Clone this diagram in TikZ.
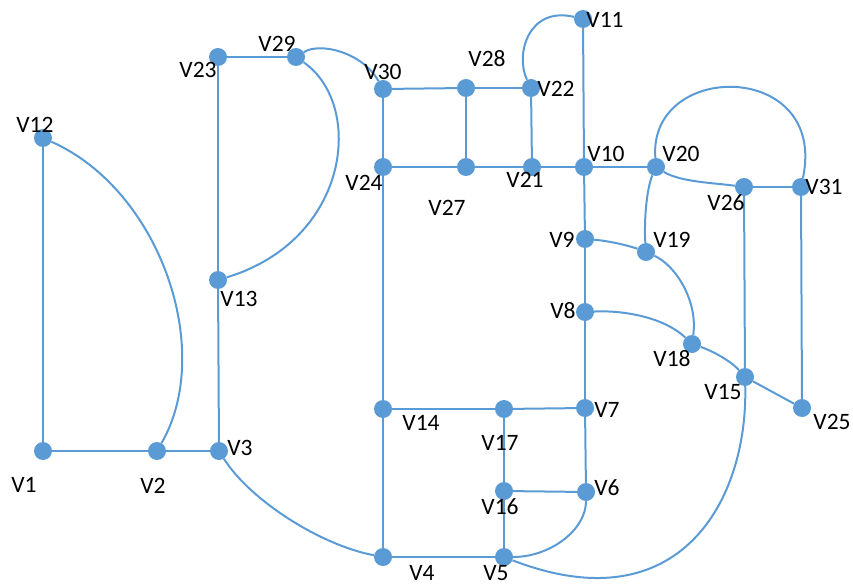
\documentclass[tikz,border=0pt]{standalone}
\usepackage{fontspec}
\setmainfont{Carlito}
\definecolor{vblue}{RGB}{91,155,213}
\begin{document}
\begin{tikzpicture}[x=1pt,y=-1pt,
  vert/.style={circle,fill=vblue,draw=none,minimum size=18pt,inner sep=0pt},
  lbl/.style={inner sep=0pt,text=black,font=\fontsize{23.5}{28}\selectfont},
  edge/.style={draw=vblue,line width=2pt}]
\useasboundingbox (0,0) rectangle (853,585);

% vertices
\node[vert] (v1)  at (43,451)  {};
\node[vert] (v2)  at (157,451) {};
\node[vert] (v3)  at (219,451) {};
\node[vert] (v12) at (43,138)  {};
\node[vert] (v13) at (218,280) {};
\node[vert] (v23) at (218,57)  {};
\node[vert] (v29) at (296,57)  {};
\node[vert] (v30) at (383,89)  {};
\node[vert] (v28) at (466,88)  {};
\node[vert] (v22) at (531,88)  {};
\node[vert] (v11) at (583,19)  {};
\node[vert] (v24) at (383,167) {};
\node[vert] (v27) at (466,167) {};
\node[vert] (v21) at (532,167) {};
\node[vert] (v10) at (584,167) {};
\node[vert] (v20) at (656,167) {};
\node[vert] (v26) at (744,187) {};
\node[vert] (v31) at (801,187) {};
\node[vert] (v9)  at (585,239) {};
\node[vert] (v19) at (646,252) {};
\node[vert] (v8)  at (585,312) {};
\node[vert] (v18) at (692,344) {};
\node[vert] (v15) at (745,377) {};
\node[vert] (v25) at (802,408) {};
\node[vert] (v7)  at (585,408) {};
\node[vert] (v14) at (383,409) {};
\node[vert] (v17) at (504,409) {};
\node[vert] (v16) at (504,491) {};
\node[vert] (v6)  at (586,492) {};
\node[vert] (v4)  at (383,557) {};
\node[vert] (v5)  at (504,557) {};

% straight edges
\draw[edge] (v1) -- (v2);
\draw[edge] (v2) -- (v3);
\draw[edge] (v1) -- (v12);
\draw[edge] (v23) -- (v29);
\draw[edge] (v23) -- (v13);
\draw[edge] (v13) -- (v3);
\draw[edge] (v30) -- (v28);
\draw[edge] (v28) -- (v22);
\draw[edge] (v30) -- (v24);
\draw[edge] (v24) -- (v14);
\draw[edge] (v14) -- (v4);
\draw[edge] (v28) -- (v27);
\draw[edge] (v22) -- (v21);
\draw[edge] (v24) -- (v27);
\draw[edge] (v27) -- (v21);
\draw[edge] (v21) -- (v10);
\draw[edge] (v10) -- (v20);
\draw[edge] (v11) -- (v10);
\draw[edge] (v10) -- (v9);
\draw[edge] (v9) -- (v8);
\draw[edge] (v8) -- (v7);
\draw[edge] (v7) -- (v6);
\draw[edge] (v26) -- (v31);
\draw[edge] (v26) -- (v15);
\draw[edge] (v31) -- (v25);
\draw[edge] (v15) -- (v25);
\draw[edge] (v14) -- (v17);
\draw[edge] (v17) -- (v7);
\draw[edge] (v17) -- (v16);
\draw[edge] (v16) -- (v5);
\draw[edge] (v16) -- (v6);
\draw[edge] (v4) -- (v5);

% curved edges
\draw[edge] (v12) .. controls (160,190) and (215,350) .. (v2);
\draw[edge] (v29) .. controls (365,105) and (350,240) .. (v13);
\draw[edge] (v29) .. controls (320,42) and (362,52) .. (v30);
\draw[edge] (v22) .. controls (515,55) and (528,6) .. (v11);
\draw[edge] (v20) .. controls (648,60) and (828,60) .. (v31);
\draw[edge] (v20) .. controls (680,182) and (715,183) .. (v26);
\draw[edge] (v20) .. controls (646,190) and (644,225) .. (v19);
\draw[edge] (v9) .. controls (610,241) and (630,246) .. (v19);
\draw[edge] (v19) .. controls (675,265) and (698,300) .. (v18);
\draw[edge] (v8) .. controls (625,310) and (665,318) .. (v18);
\draw[edge] (v18) .. controls (710,350) and (730,360) .. (v15);
\draw[edge] (v15) .. controls (748,500) and (680,625) .. (v5);
\draw[edge] (v6) .. controls (586,530) and (550,557) .. (v5);
\draw[edge] (v3) .. controls (250,500) and (320,545) .. (v4);

% vertex labels
\node[lbl] (t1)  at (24,485)  {V1};
\node[lbl] (t2)  at (153,486) {V2};
\node[lbl] (t3)  at (240,448) {V3};
\node[lbl] (t12) at (35,125)  {V12};
\node[lbl] (t13) at (239,299) {V13};
\node[lbl] (t23) at (198,70)  {V23};
\node[lbl] (t29) at (277,44)  {V29};
\node[lbl] (t30) at (383,72)  {V30};
\node[lbl] (t28) at (487,59)  {V28};
\node[lbl] (t22) at (556,89)  {V22};
\node[lbl] (t11) at (605,20)  {V11};
\node[lbl] (t10) at (606,154) {V10};
\node[lbl] (t21) at (525,180) {V21};
\node[lbl] (t27) at (447,208) {V27};
\node[lbl] (t24) at (364,183) {V24};
\node[lbl] (t20) at (681,154) {V20};
\node[lbl] (t26) at (726,203) {V26};
\node[lbl] (t31) at (824,187) {V31};
\node[lbl] (t19) at (672,240) {V19};
\node[lbl] (t9)  at (562,240) {V9};
\node[lbl] (t8)  at (563,311) {V8};
\node[lbl] (t18) at (672,359) {V18};
\node[lbl] (t15) at (723,392) {V15};
\node[lbl] (t25) at (832,422) {V25};
\node[lbl] (t7)  at (607,410) {V7};
\node[lbl] (t14) at (421,423) {V14};
\node[lbl] (t17) at (500,443) {V17};
\node[lbl] (t16) at (500,507) {V16};
\node[lbl] (t6)  at (607,488) {V6};
\node[lbl] (t5)  at (496,573) {V5};
\node[lbl] (t4)  at (422,573) {V4};
\end{tikzpicture}
\end{document}
